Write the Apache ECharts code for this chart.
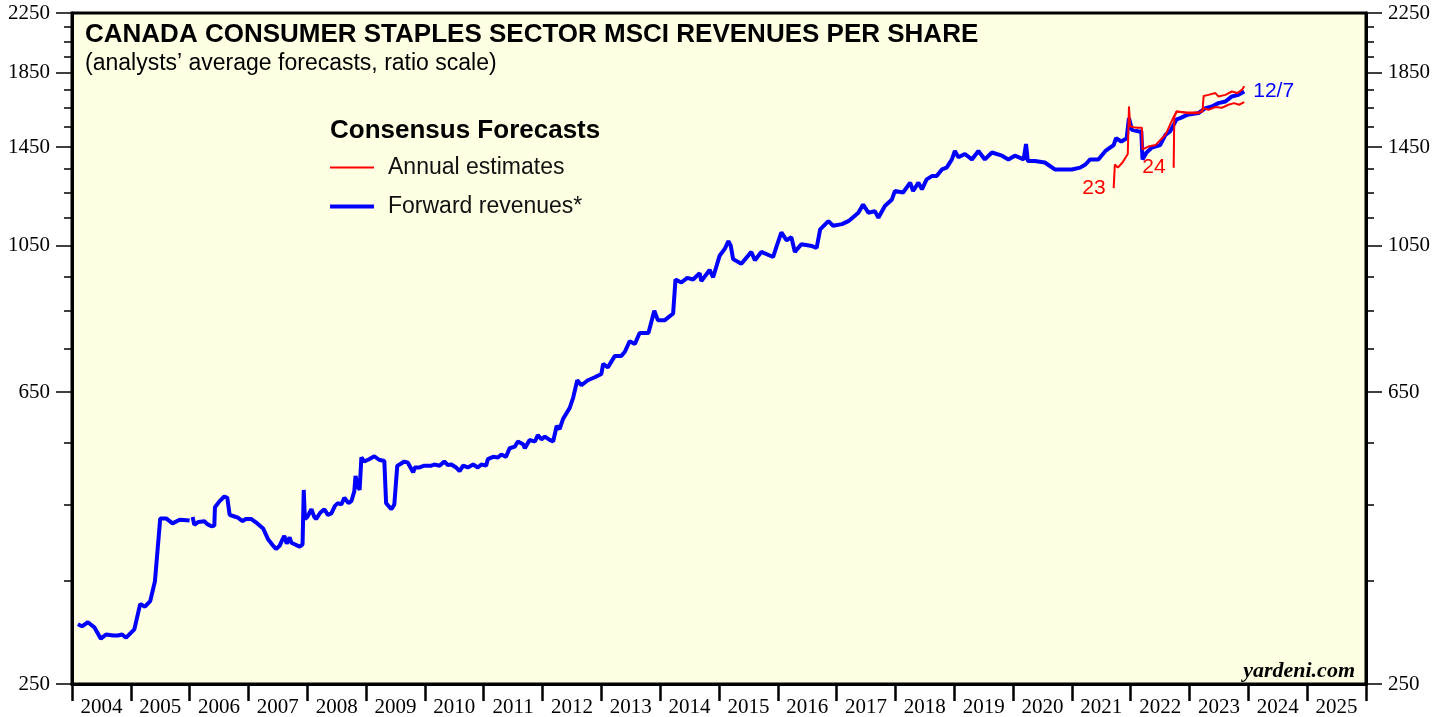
<!DOCTYPE html>
<html>
<head>
<meta charset="utf-8">
<script src="https://cdn.jsdelivr.net/npm/echarts@6/dist/echarts.min.js"></script>
<style>
  html, body { margin: 0; padding: 0; background: #fff; }
  #chart { width: 1448px; height: 717px; }
</style>
</head>
<body>
<div id="chart"></div>
<script>
// forward revenues (decimal year, value); null = gap in the series
var fwdYears = [
  2004.10, 2004.17, 2004.27, 2004.38, 2004.49, 2004.58, 2004.70, 2004.78, 2004.85, 2004.92,
  2005.06, 2005.16, 2005.24, 2005.33, 2005.41, 2005.50, 2005.60, 2005.71, 2005.83, 2006.00,
  2006.02, 2006.05, 2006.08, 2006.15, 2006.25, 2006.30, 2006.37, 2006.42, 2006.43, 2006.51,
  2006.59, 2006.64, 2006.68, 2006.75, 2006.82, 2006.90, 2006.95, 2007.05, 2007.15, 2007.25,
  2007.33, 2007.40, 2007.47, 2007.53, 2007.57, 2007.61, 2007.65, 2007.70, 2007.73, 2007.87,
  2007.92, 2007.94, 2007.96, 2008.00, 2008.07, 2008.12, 2008.15, 2008.22, 2008.29, 2008.35,
  2008.41, 2008.47, 2008.52, 2008.58, 2008.63, 2008.70, 2008.75, 2008.80, 2008.82, 2008.86,
  2008.89, 2008.92, 2008.97, 2009.05, 2009.14, 2009.22, 2009.31, 2009.34, 2009.40, 2009.43,
  2009.48, 2009.53, 2009.57, 2009.65, 2009.71, 2009.80, 2009.83, 2009.91, 2009.99, 2010.11,
  2010.16, 2010.25, 2010.33, 2010.39, 2010.45, 2010.53, 2010.59, 2010.65, 2010.73, 2010.82,
  2010.90, 2010.96, 2011.04, 2011.07, 2011.16, 2011.24, 2011.30, 2011.38, 2011.44, 2011.53,
  2011.58, 2011.67, 2011.70, 2011.78, 2011.87, 2011.92, 2011.98, 2012.04, 2012.12, 2012.18,
  2012.24, 2012.29, 2012.35, 2012.46, 2012.52, 2012.59, 2012.66, 2012.77, 2012.88, 2013.00,
  2013.03, 2013.11, 2013.23, 2013.34, 2013.40, 2013.48, 2013.57, 2013.65, 2013.80, 2013.90,
  2013.96, 2014.08, 2014.22, 2014.26, 2014.36, 2014.46, 2014.56, 2014.67, 2014.70, 2014.84,
  2014.90, 2015.01, 2015.10, 2015.16, 2015.20, 2015.24, 2015.38, 2015.55, 2015.61, 2015.72,
  2015.92, 2015.98, 2016.06, 2016.15, 2016.23, 2016.29, 2016.40, 2016.58, 2016.66, 2016.72,
  2016.86, 2016.94, 2017.09, 2017.20, 2017.37, 2017.45, 2017.54, 2017.65, 2017.71, 2017.82,
  2017.94, 2017.99, 2018.13, 2018.25, 2018.30, 2018.39, 2018.45, 2018.53, 2018.62, 2018.70,
  2018.79, 2018.87, 2018.96, 2019.01, 2019.07, 2019.18, 2019.30, 2019.41, 2019.52, 2019.64,
  2019.81, 2019.92, 2020.03, 2020.18, 2020.22, 2020.25, 2020.37, 2020.54, 2020.71, 2020.94,
  2021.00, 2021.14, 2021.23, 2021.31, 2021.45, 2021.57, 2021.71, 2021.75, 2021.84, 2021.93,
  2021.97, 2022.02, 2022.13, 2022.18, 2022.20, 2022.27, 2022.36, 2022.50, 2022.59, 2022.67,
  2022.78, 2022.84, 2022.96, 2023.15, 2023.27, 2023.38, 2023.49, 2023.61, 2023.72, 2023.83,
  2023.93
];
var fwdValues = [
  304, 302, 306, 301, 290, 294, 293, 293, 294, 291,
  299, 325, 322, 328, 350, 430, 430, 423, 428, 427,
  null, 432, 421, 425, 426, 422, 419, 420, 446, 455,
  462, 460, 435, 433, 431, 426, 429, 429, 423, 416,
  402, 395, 389, 393, 400, 406, 396, 404, 397, 392,
  395, 472, 429, 432, 443, 432, 429, 438, 443, 435,
  437, 448, 452, 450, 460, 452, 455, 470, 494, 478,
  472, 525, 518, 522, 527, 521, 519, 452, 446, 443,
  450, 511, 513, 518, 516, 500, 508, 508, 511, 511,
  513, 511, 518, 512, 513, 508, 502, 511, 508, 513,
  508, 513, 511, 522, 526, 525, 530, 526, 541, 544,
  553, 548, 541, 556, 553, 565, 557, 562, 556, 553,
  582, 576, 596, 617, 638, 676, 665, 676, 682, 690,
  713, 705, 732, 732, 742, 768, 761, 789, 789, 849,
  823, 823, 841, 940, 931, 945, 940, 960, 935, 970,
  947, 1016, 1040, 1066, 1050, 1005, 990, 1029, 1001, 1029,
  1012, 1049, 1097, 1069, 1080, 1029, 1055, 1049, 1043, 1108,
  1138, 1121, 1127, 1138, 1170, 1202, 1170, 1176, 1151, 1196,
  1222, 1256, 1250, 1291, 1256, 1291, 1263, 1305, 1319, 1319,
  1348, 1356, 1393, 1432, 1403, 1418, 1393, 1432, 1393, 1425,
  1410, 1393, 1410, 1393, 1465, 1386, 1386, 1379, 1348, 1348,
  1348, 1356, 1370, 1393, 1393, 1432, 1460, 1493, 1477, 1493,
  1595, 1535, 1527, 1527, 1393, 1425, 1448, 1460, 1510, 1527,
  1588, 1595, 1612, 1621, 1648, 1657, 1675, 1684, 1712, 1721,
  1740
];

// annual estimates for 2023
var est23Years = [
  2021.71, 2021.73, 2021.78, 2021.86, 2021.95, 2021.97, 2021.99, 2022.05, 2022.12, 2022.19,
  2022.20, 2022.30, 2022.42, 2022.59, 2022.72, 2022.78, 2022.96, 2023.15, 2023.20, 2023.24,
  2023.32, 2023.44, 2023.55, 2023.66, 2023.76, 2023.84, 2023.93
];
var est23Values = [
  1268, 1370, 1356, 1379, 1418, 1657, 1553, 1548, 1545, 1545,
  1440, 1453, 1460, 1510, 1595, 1630, 1621, 1621, 1630, 1648,
  1639, 1654, 1650, 1666, 1675, 1666, 1680
];

// annual estimates for 2024
var est24Years = [
  2022.73, 2022.74, 2022.78, 2022.96, 2023.15, 2023.22, 2023.24, 2023.32, 2023.44, 2023.49,
  2023.61, 2023.72, 2023.81, 2023.89, 2023.93
];
var est24Values = [
  1356, 1600, 1630, 1625, 1625, 1630, 1715, 1721, 1731, 1712,
  1721, 1740, 1731, 1749, 1770
];

var yearTicks = [];
var yearLabels = [];
for (var y = 2004; y <= 2026; y++) {
  yearTicks.push(y);
  if (y < 2026) yearLabels.push(y + 0.5);
}
var yLabels = [250, 650, 1050, 1450, 1850, 2250];
var yMinor = [];
for (var v = 250; v <= 2250; v += 100) yMinor.push(v);

function pairs(xs, ys) {
  return xs.map(function (x, i) {
    return [x, ys[i] == null ? '-' : ys[i]];
  });
}

var sans = "'Liberation Sans', Arial, Helvetica, sans-serif";
var serif = "'Liberation Serif', 'Times New Roman', serif";

function logAxis(pos, major) {
  return {
    type: 'log',
    logBase: 10,
    min: 250,
    max: 2250,
    position: pos,
    axisLine: { show: major, lineStyle: { color: '#000', width: 3 } },
    axisTick: {
      show: true,
      customValues: major ? yLabels : yMinor,
      length: major ? 16 : 8,
      lineStyle: { color: '#000', width: 1.5 }
    },
    axisLabel: {
      show: major,
      customValues: yLabels,
      margin: 22,
      color: '#000',
      fontFamily: serif,
      fontSize: 21,
      formatter: function (val) { return String(Math.round(val)); }
    },
    splitLine: { show: false },
    minorTick: { show: false }
  };
}

// legend entry drawn as a plain line sample
function legendRow(name, top, thick) {
  return {
    orient: 'vertical',
    left: 325,
    top: top,
    icon: 'rect',
    itemWidth: 44,
    itemHeight: thick,
    selectedMode: false,
    data: [name],
    textStyle: { fontFamily: sans, fontSize: 23, color: '#111', padding: [0, 0, 0, 9] }
  };
}

var chart = echarts.init(document.getElementById('chart'));

var option = {
  animation: false,
  backgroundColor: '#ffffff',
  title: [
    {
      text: 'CANADA CONSUMER STAPLES SECTOR MSCI REVENUES PER SHARE',
      left: 80, top: 17,
      textStyle: { fontFamily: sans, fontSize: 26, fontWeight: 'bold', color: '#000' }
    },
    {
      text: '(analysts\u2019 average forecasts, ratio scale)',
      left: 80, top: 47,
      textStyle: { fontFamily: sans, fontSize: 23, fontWeight: 'normal', color: '#000' }
    },
    {
      text: 'Consensus Forecasts',
      left: 325, top: 113,
      textStyle: { fontFamily: sans, fontSize: 26, fontWeight: 'bold', color: '#000' }
    },
    {
      text: 'yardeni.com',
      right: 88, top: 655,
      textStyle: { fontFamily: serif, fontSize: 22, fontWeight: 'bold', fontStyle: 'italic', color: '#000' }
    }
  ],
  legend: [
    legendRow('Annual estimates', 151, 2),
    legendRow('Forward revenues*', 190, 4)
  ],
  grid: {
    left: 72,
    right: 82,
    top: 13,
    bottom: 33,
    show: true,
    backgroundColor: '#ffffe3',
    borderColor: '#000',
    borderWidth: 3,
    containLabel: false,
    outerBoundsMode: 'none'
  },
  xAxis: {
    type: 'value',
    min: 2004,
    max: 2026,
    axisLine: { lineStyle: { color: '#000', width: 3 } },
    axisTick: {
      customValues: yearTicks,
      length: 17,
      lineStyle: { color: '#000', width: 2.5 }
    },
    axisLabel: {
      customValues: yearLabels,
      margin: 13,
      color: '#000',
      fontFamily: serif,
      fontSize: 21,
      formatter: function (val) { return String(Math.floor(val)); }
    },
    splitLine: { show: false }
  },
  yAxis: [
    logAxis('left', true),
    logAxis('left', false),
    logAxis('right', true),
    logAxis('right', false)
  ],
  series: [
    {
      name: 'Forward revenues*',
      type: 'line',
      data: pairs(fwdYears, fwdValues),
      showSymbol: false,
      symbol: 'none',
      connectNulls: false,
      color: '#0000ff',
      lineStyle: { color: '#0000ff', width: 4 },
      endLabel: {
        show: true,
        formatter: '12/7',
        color: '#0000ff',
        fontFamily: sans,
        fontSize: 21,
        distance: 9
      },
      z: 2
    },
    {
      name: 'Annual estimates',
      type: 'line',
      data: pairs(est23Years, est23Values),
      showSymbol: false,
      symbol: 'none',
      color: '#ff0000',
      lineStyle: { color: '#ff0000', width: 2 },
      markPoint: {
        symbol: 'circle',
        symbolSize: 0,
        data: [{ coord: [est23Years[0], est23Values[0]] }],
        label: {
          show: true, position: 'left', distance: 8, formatter: '23',
          color: '#ff0000', fontFamily: sans, fontSize: 21
        }
      },
      z: 3
    },
    {
      name: 'Annual estimates',
      type: 'line',
      data: pairs(est24Years, est24Values),
      showSymbol: false,
      symbol: 'none',
      color: '#ff0000',
      lineStyle: { color: '#ff0000', width: 2 },
      markPoint: {
        symbol: 'circle',
        symbolSize: 0,
        data: [{ coord: [est24Years[0], est24Values[0]] }],
        label: {
          show: true, position: 'left', distance: 8, formatter: '24',
          color: '#ff0000', fontFamily: sans, fontSize: 21
        }
      },
      z: 3
    }
  ]
};

chart.setOption(option);
</script>
</body>
</html>
